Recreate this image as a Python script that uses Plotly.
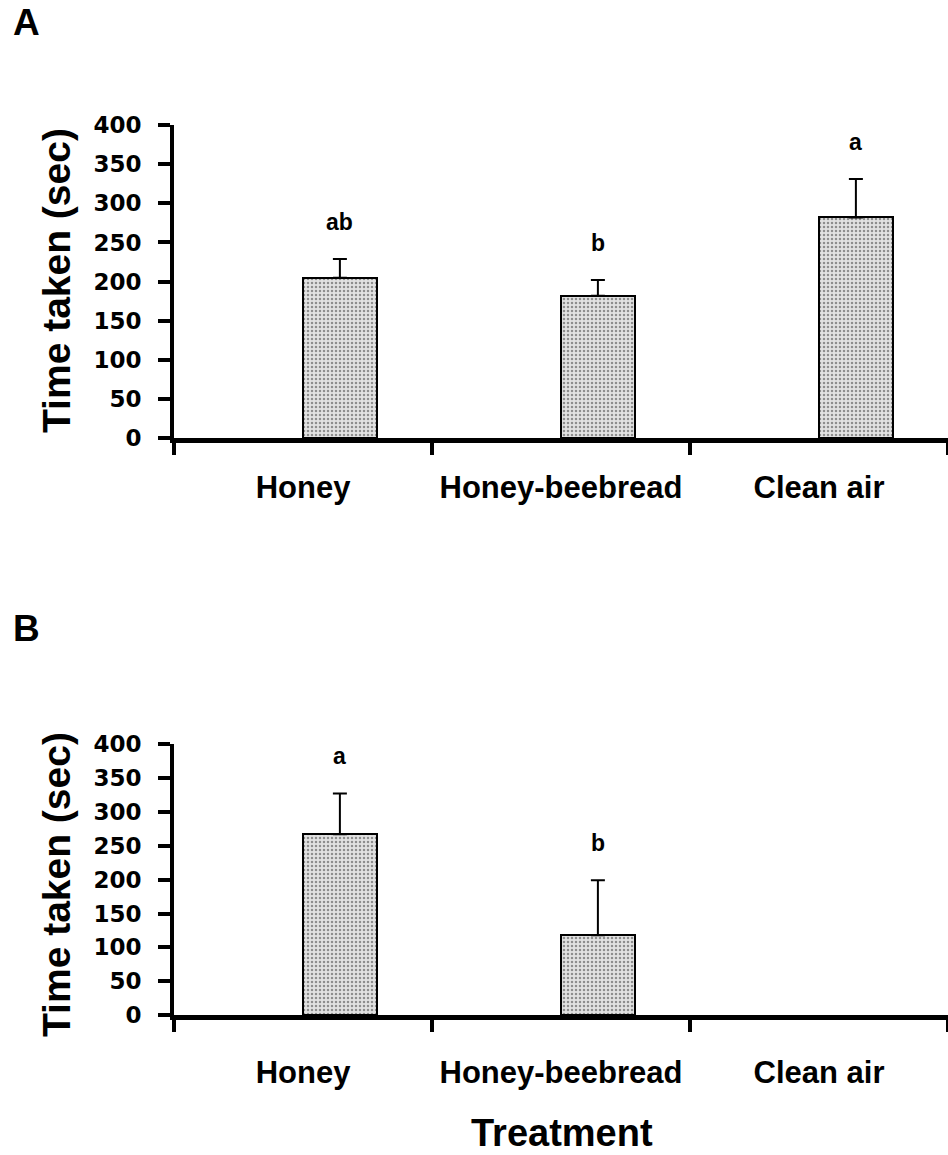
import plotly.graph_objects as go

# Treatments and measured times (mean, upper error) for both experiments
treatments = ["Honey", "Honey-beebread", "Clean air"]

time_a = [205, 182, 282]
err_a = [24, 20, 49]
letters_a = ["ab", "b", "a"]

time_b = [267, 118, None]
err_b = [60, 81, None]
letters_b = ["a", "b", ""]

y_ticks = [0, 50, 100, 150, 200, 250, 300, 350, 400]

W, H = 948, 1155
BAR_W = 0.286
FONT = "Liberation Sans, Arial, sans-serif"


def px_to_paper_y(py):
    return 1 - py / H


fig = go.Figure()


def add_panel(values, errors, xref, yref):
    fig.add_trace(go.Bar(
        x=treatments,
        y=values,
        width=BAR_W,
        offset=0,
        xaxis=xref,
        yaxis=yref,
        marker=dict(
            color="#d6d6d6",
            line=dict(color="black", width=2),
            pattern=dict(shape=".", size=4, solidity=0.3,
                         fgcolor="#3a3a3a", bgcolor="#e2e2e2"),
        ),
        error_y=dict(type="data", symmetric=False,
                     array=[e if e is not None else 0 for e in errors],
                     arrayminus=[0] * len(errors),
                     color="black", thickness=2, width=7),
        showlegend=False,
    ))


add_panel(time_a, err_a, "x", "y")
add_panel(time_b, err_b, "x2", "y2")

xdom = [174 / W, 1.0]
ydom_a = [px_to_paper_y(438.2), px_to_paper_y(125)]
ydom_b = [px_to_paper_y(1015.2), px_to_paper_y(744)]

xaxis_style = dict(
    domain=xdom,
    type="category",
    range=[-0.5, 2.5],
    showline=True, linecolor="black", linewidth=5,
    ticks="outside", tickson="boundaries", ticklen=12, tickwidth=4,
    tickcolor="black",
    tickfont=dict(family=FONT, size=31, color="black", weight="bold"),
    showgrid=False, zeroline=False, fixedrange=True, automargin=False,
)
yaxis_style = dict(
    range=[0, 400],
    tickvals=y_ticks,
    showline=True, linecolor="black", linewidth=4,
    ticks="outside", ticklen=12, tickwidth=4, tickcolor="black",
    tickfont=dict(family="DejaVu Sans, sans-serif", size=23, color="black",
                  weight="bold"),
    ticklabelstandoff=12,
    showgrid=False, zeroline=False, fixedrange=True, automargin=False,
)

fig.update_layout(
    width=W, height=H,
    margin=dict(l=0, r=0, t=0, b=0, autoexpand=False),
    paper_bgcolor="white", plot_bgcolor="white",
    xaxis=dict(**xaxis_style, anchor="y", ticklabelstandoff=18),
    yaxis=dict(**yaxis_style, domain=ydom_a, anchor="x"),
    xaxis2=dict(**xaxis_style, anchor="y2", ticklabelstandoff=26),
    yaxis2=dict(**yaxis_style, domain=ydom_b, anchor="x2"),
    bargap=0,
)

annotations = []

# significance letters above the error bars
for xr, yr, vals, errs, letters in [("x", "y", time_a, err_a, letters_a),
                                     ("x2", "y2", time_b, err_b, letters_b)]:
    for i, (v, e, t) in enumerate(zip(vals, errs, letters)):
        if v is None or not t:
            continue
        annotations.append(dict(
            x=i + BAR_W / 2, y=v + e, xref=xr, yref=yr,
            text=t, showarrow=False, yanchor="bottom", yshift=22,
            font=dict(family=FONT, size=23, color="black", weight="bold"),
        ))

# y-axis titles
for yc in (281, 885):
    annotations.append(dict(
        x=56 / W, y=px_to_paper_y(yc), xref="paper", yref="paper",
        text="Time taken (sec)", textangle=-90, showarrow=False,
        xanchor="center", yanchor="middle",
        font=dict(family=FONT, size=39, color="black", weight="bold"),
    ))

# panel letters
for label, yc in (("A", 23), ("B", 628)):
    annotations.append(dict(
        x=11 / W, y=px_to_paper_y(yc), xref="paper", yref="paper",
        text=label, showarrow=False, xanchor="left", yanchor="middle",
        font=dict(family=FONT, size=37, color="black", weight="bold"),
    ))

# x-axis title
annotations.append(dict(
    x=562 / W, y=px_to_paper_y(1133), xref="paper", yref="paper",
    text="Treatment", showarrow=False, xanchor="center", yanchor="middle",
    font=dict(family=FONT, size=38, color="black", weight="bold"),
))

fig.update_layout(annotations=annotations)

fig.write_html("out.html")
